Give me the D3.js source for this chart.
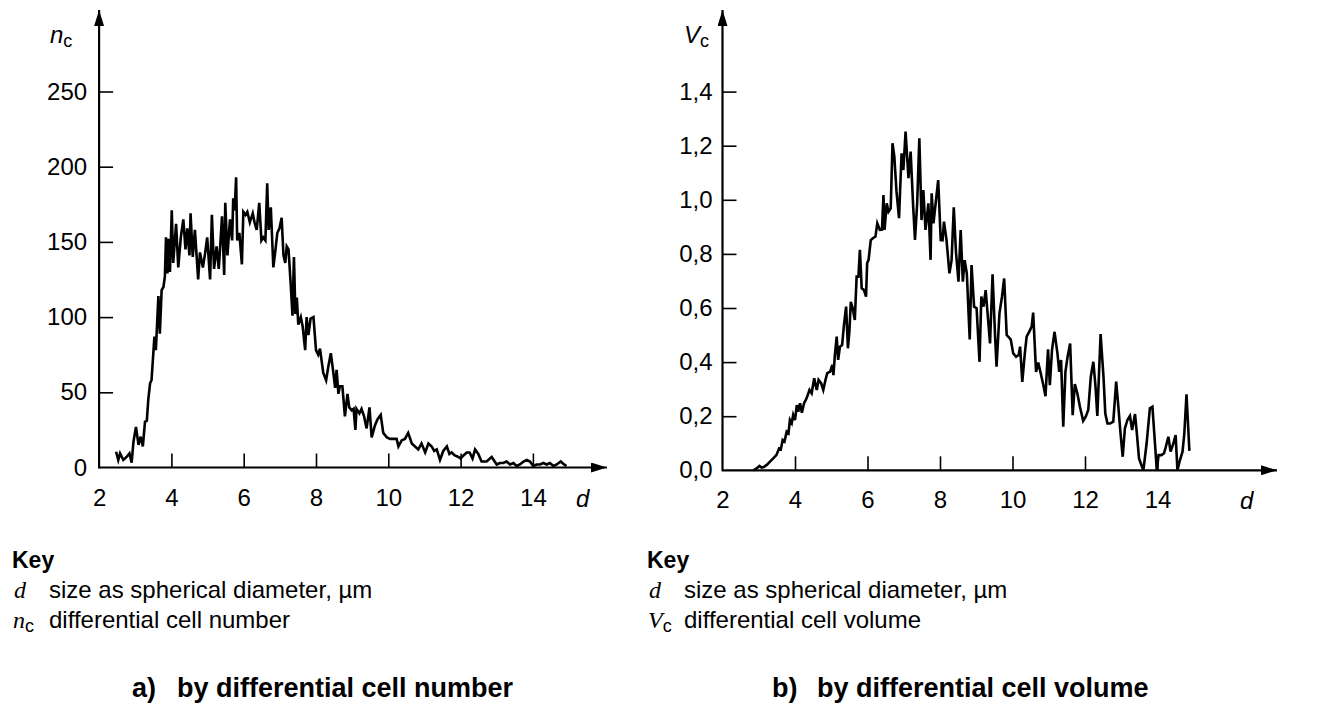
<!DOCTYPE html>
<head>
  <meta charset="UTF-8">
  <title>cell size distribution</title>
  <style>
  body, html, svg{
    padding: 0;
    margin: 0;
  }
  body{
    background: #fff;
  }
  text{
    font-family: "Liberation Sans", Arial, sans-serif;
    fill: #000;
  }
  .sym{
    font-family: "Liberation Serif", "Times New Roman", serif;
    font-style: italic;
  }
  </style>
</head>
<body>
  <script src="https://cdn.jsdelivr.net/npm/d3@7/dist/d3.min.js"></script>
  <script type="text/javascript">
  // a) differential cell number n_c against d
  var dA = [2.47,2.53,2.58,2.67,2.76,2.84,2.90,2.95,3.02,3.09,3.15,3.21,3.27,3.32,3.36,3.41,3.45,3.50,3.53,3.57,
    3.64,3.68,3.73,3.78,3.82,3.85,3.89,3.92,3.96,4.01,4.05,4.13,4.19,4.26,4.33,4.39,4.44,4.50,4.53,4.59,
    4.65,4.74,4.79,4.87,4.93,4.99,5.07,5.12,5.18,5.25,5.31,5.36,5.40,5.46,5.49,5.55,5.62,5.68,5.71,5.75,
    5.79,5.82,5.88,5.95,5.99,6.05,6.10,6.17,6.25,6.30,6.36,6.43,6.49,6.54,6.60,6.65,6.69,6.75,6.82,6.88,
    6.93,6.99,7.05,7.10,7.15,7.19,7.24,7.30,7.35,7.39,7.43,7.47,7.51,7.58,7.63,7.70,7.74,7.79,7.85,7.93,
    8.00,8.06,8.11,8.20,8.28,8.34,8.41,8.48,8.53,8.57,8.62,8.66,8.73,8.80,8.87,8.92,8.99,9.04,9.09,9.12,
    9.20,9.26,9.33,9.40,9.48,9.54,9.63,9.70,9.79,9.86,9.96,10.05,10.23,10.28,10.37,10.46,10.55,10.65,10.74,10.83,
    10.92,11.02,11.11,11.20,11.27,11.34,11.43,11.52,11.62,11.69,11.75,11.84,11.94,12.00,12.08,12.17,12.25,12.33,12.40,12.49,
    12.58,12.72,12.86,13.00,13.09,13.18,13.27,13.37,13.46,13.55,13.64,13.74,13.83,13.92,14.01,14.10,14.20,14.29,14.38,14.47,
    14.57,14.66,14.77,14.86,14.93];
  var nA = [10.5,5,9.4,5,7,9.4,3.2,17,27,15,20.5,14,30.5,31,45,56,58,76,87,78,
    114,89,118,120,127,153,129,152,130,171,136,162,133,153,165,145,159,141,169,140,
    158,125,143,133,142,153,125,168,132,147,132,151,167,128,176,141,165,151,179,171,
    193,151,156,135,170,168,170,163,169,163,158,176,151,153,151,189,158,173,133,145,
    156,159,166,141,136,147,145,122,101,140,102,113,95,100,94,78,100,88,99,100,
    78,75,79,63,58,67,76,63,53,65,49,54,54,34,49,40,38,39,25,39,
    36,39,34,26,40,20,28,32,35,23,20,19,19,14,18,19,23,16,14,12,
    16,10,16,14,11,12,5,11,14,9,10,8,7,6,8,10,10,6,12,9,
    4,4,7,2,3,3,4,2,3,1,2,4,5,4,1,2,2,3,2,3,
    1,2,4,2,1];

  // b) differential cell volume V_c against d
  var dB = [2.85,2.94,3.02,3.08,3.14,3.22,3.31,3.40,3.49,3.56,3.61,3.66,3.71,3.77,3.82,3.86,3.91,3.95,4.00,4.05,
    4.09,4.14,4.19,4.25,4.32,4.40,4.46,4.53,4.60,4.65,4.72,4.78,4.84,4.89,4.97,5.03,5.06,5.10,5.15,5.19,
    5.24,5.30,5.35,5.41,5.46,5.50,5.54,5.59,5.65,5.70,5.75,5.79,5.84,5.90,5.96,5.99,6.03,6.09,6.14,6.22,
    6.27,6.34,6.40,6.44,6.47,6.53,6.58,6.64,6.69,6.74,6.80,6.87,6.94,6.99,7.05,7.13,7.19,7.26,7.31,7.37,
    7.43,7.49,7.54,7.60,7.68,7.74,7.77,7.82,7.88,7.95,8.02,8.07,8.11,8.18,8.26,8.32,8.38,8.44,8.51,8.57,
    8.63,8.68,8.74,8.82,8.87,8.94,9.01,9.09,9.14,9.20,9.26,9.32,9.38,9.45,9.52,9.56,9.64,9.71,9.77,9.84,
    9.95,10.02,10.10,10.17,10.21,10.27,10.34,10.39,10.46,10.53,10.57,10.65,10.71,10.78,10.85,10.91,10.98,11.03,11.09,11.16,
    11.24,11.29,11.34,11.40,11.46,11.52,11.59,11.66,11.72,11.79,11.86,11.95,12.02,12.09,12.16,12.23,12.29,12.34,12.43,12.51,
    12.56,12.62,12.69,12.78,12.86,12.92,12.98,13.04,13.10,13.17,13.24,13.30,13.38,13.43,13.49,13.54,13.61,13.70,13.79,13.86,
    13.93,13.98,14.03,14.11,14.18,14.23,14.30,14.36,14.44,14.50,14.55,14.62,14.69,14.74,14.80,14.88];
  var vB = [0,0.007,0.016,0.01,0.012,0.02,0.032,0.044,0.057,0.081,0.078,0.112,0.106,0.143,0.137,0.186,0.174,0.205,0.186,0.241,
    0.217,0.248,0.213,0.248,0.266,0.297,0.285,0.340,0.297,0.334,0.322,0.297,0.334,0.359,0.365,0.390,0.352,0.426,0.494,0.408,
    0.457,0.463,0.537,0.605,0.451,0.513,0.623,0.600,0.556,0.716,0.716,0.815,0.673,0.667,0.642,0.765,0.778,0.851,0.857,0.864,
    0.913,0.889,0.890,1.018,0.889,0.987,0.956,0.968,1.209,1.160,1.030,0.932,1.172,1.110,1.252,1.080,1.178,0.975,0.852,0.987,
    1.227,0.925,1.036,0.889,0.987,0.778,1.024,0.913,0.987,1.073,0.851,0.850,0.919,0.851,0.728,0.777,0.972,0.808,0.697,0.888,
    0.697,0.777,0.728,0.484,0.759,0.605,0.599,0.401,0.642,0.605,0.666,0.568,0.469,0.725,0.494,0.383,0.580,0.642,0.709,0.500,
    0.484,0.432,0.420,0.426,0.457,0.327,0.432,0.494,0.512,0.531,0.583,0.364,0.398,0.358,0.315,0.274,0.447,0.315,0.445,0.512,
    0.432,0.364,0.408,0.161,0.364,0.420,0.469,0.204,0.319,0.284,0.235,0.183,0.198,0.223,0.346,0.401,0.309,0.201,0.504,0.346,
    0.210,0.173,0.173,0.180,0.328,0.235,0.136,0.050,0.155,0.186,0.201,0.149,0.208,0.137,0.044,0.025,0,0.100,0.229,0.235,
    0.100,0,0.056,0.056,0.063,0.087,0.124,0.069,0.100,0.130,0,0.038,0.069,0.136,0.281,0.072];

  var xTicks = [2, 4, 6, 8, 10, 12, 14];
  var yTicksA = [0, 50, 100, 150, 200, 250];
  var yTicksB = [0, 0.2, 0.4, 0.6, 0.8, 1.0, 1.2, 1.4];

  var svg = d3.select('body').append('svg')
    .attr('width', 1328)
    .attr('height', 706);

  //箭头
  var defs = svg.append('defs');
  defs.append('marker')
    .attr('id', 'arrow')
    .attr('viewBox', '0 0 16 10')
    .attr('refX', 16)
    .attr('refY', 5)
    .attr('markerWidth', 16)
    .attr('markerHeight', 10)
    .attr('markerUnits', 'userSpaceOnUse')
    .attr('orient', 'auto')
    .append('path')
    .attr('d', 'M0,0 L16,5 L0,10 Z')
    .attr('fill', '#000');

  function panel(opt) {
    var x = d3.scaleLinear().domain([2, 14]).range([opt.x0, opt.x0 + 12 * opt.kx]);
    var y = d3.scaleLinear().domain(opt.yDomain).range([opt.y0, opt.yTop]);
    var g = svg.append('g');

    // 刻度
    var xAxis = d3.axisBottom(x).tickValues(xTicks).tickSize(-14).tickPadding(21)
      .tickFormat(d3.format('d'));
    g.append('g')
      .attr('transform', 'translate(0,' + opt.y0 + ')')
      .call(xAxis)
      .call(function(s) { s.select('.domain').remove(); })
      .call(function(s) { s.selectAll('.tick line').attr('stroke-width', 1.6).filter(function(d) { return d === 2; }).remove(); });

    var yAxis = d3.axisLeft(y).tickValues(opt.yTicks).tickSize(-14).tickPadding(opt.yPad)
      .tickFormat(opt.yFormat);
    g.append('g')
      .attr('transform', 'translate(' + opt.x0 + ',0)')
      .call(yAxis)
      .call(function(s) { s.select('.domain').remove(); })
      .call(function(s) { s.selectAll('.tick line').attr('stroke-width', 1.6).filter(function(d) { return d === 0; }).remove(); });

    g.selectAll('.tick text').style('font-size', '24px').attr('font-family', null);

    // 坐标轴线 + 箭头
    g.append('line')
      .attr('x1', opt.x0).attr('y1', opt.y0)
      .attr('x2', opt.xTip).attr('y2', opt.y0)
      .attr('stroke', '#000').attr('stroke-width', 2.2)
      .attr('marker-end', 'url(#arrow)');
    g.append('line')
      .attr('x1', opt.x0).attr('y1', opt.y0 + 1)
      .attr('x2', opt.x0).attr('y2', 10)
      .attr('stroke', '#000').attr('stroke-width', 2.2)
      .attr('marker-end', 'url(#arrow)');

    // 数据曲线
    var line = d3.line()
      .x(function(d) { return x(d[0]); })
      .y(function(d) { return y(d[1]); });
    g.append('path')
      .datum(d3.zip(opt.xs, opt.ys))
      .attr('d', line)
      .attr('fill', 'none')
      .attr('stroke', '#000')
      .attr('stroke-width', 2.6)
      .attr('stroke-linejoin', 'miter');

    // 轴标签
    var yl = g.append('text')
      .attr('x', opt.yLabelX).attr('y', 43)
      .style('font-size', '24px');
    yl.append('tspan').style('font-style', 'italic').text(opt.ySym);
    yl.append('tspan').attr('dy', 4).style('font-size', '18px').text('c');

    g.append('text')
      .attr('x', opt.dLabelX).attr('y', opt.y0 + 39)
      .style('font-size', '24px').style('font-style', 'italic')
      .text('d');

    // Key
    var kx = opt.keyX;
    g.append('text').attr('x', kx).attr('y', 568)
      .style('font-size', '23px').style('font-weight', 'bold').text('Key');
    g.append('text').attr('class', 'sym').attr('x', kx + 2).attr('y', 598)
      .style('font-size', '24px').text('d');
    g.append('text').attr('x', kx + 37).attr('y', 598)
      .style('font-size', '24px').text('size as spherical diameter, \u00b5m');
    var ks = g.append('text').attr('x', kx + 1).attr('y', 628);
    ks.append('tspan').attr('class', 'sym').style('font-size', '24px').text(opt.keySym);
    ks.append('tspan').attr('dy', 4).style('font-size', '18px').text('c');
    g.append('text').attr('x', kx + 37).attr('y', 628)
      .style('font-size', '24px').text(opt.keyText);

    // 标题
    g.append('text').attr('x', opt.titleX).attr('y', 697)
      .style('font-size', '27px').style('font-weight', 'bold').text(opt.tag);
    g.append('text').attr('x', opt.titleX + 45).attr('y', 697)
      .style('font-size', '27px').style('font-weight', 'bold').text(opt.title);
  }

  panel({
    xs: dA, ys: nA,
    x0: 99.1, kx: 36.15, y0: 467.5, yTop: 91.5, yDomain: [0, 250],
    yTicks: yTicksA, yFormat: d3.format('d'), yPad: 12,
    xTip: 607, ySym: 'n', yLabelX: 50, dLabelX: 576,
    keyX: 12, keySym: 'n', keyText: 'differential cell number',
    tag: 'a)', title: 'by differential cell number', titleX: 132
  });

  panel({
    xs: dB, ys: vB,
    x0: 722.5, kx: 36.25, y0: 470.3, yTop: 91.6, yDomain: [0, 1.4],
    yTicks: yTicksB, yFormat: function(v) { return d3.format('.1f')(v).replace('.', ','); }, yPad: 10,
    xTip: 1277, ySym: 'V', yLabelX: 684, dLabelX: 1240,
    keyX: 647, keySym: 'V', keyText: 'differential cell volume',
    tag: 'b)', title: 'by differential cell volume', titleX: 772
  });
  </script>
</body>
</html>
